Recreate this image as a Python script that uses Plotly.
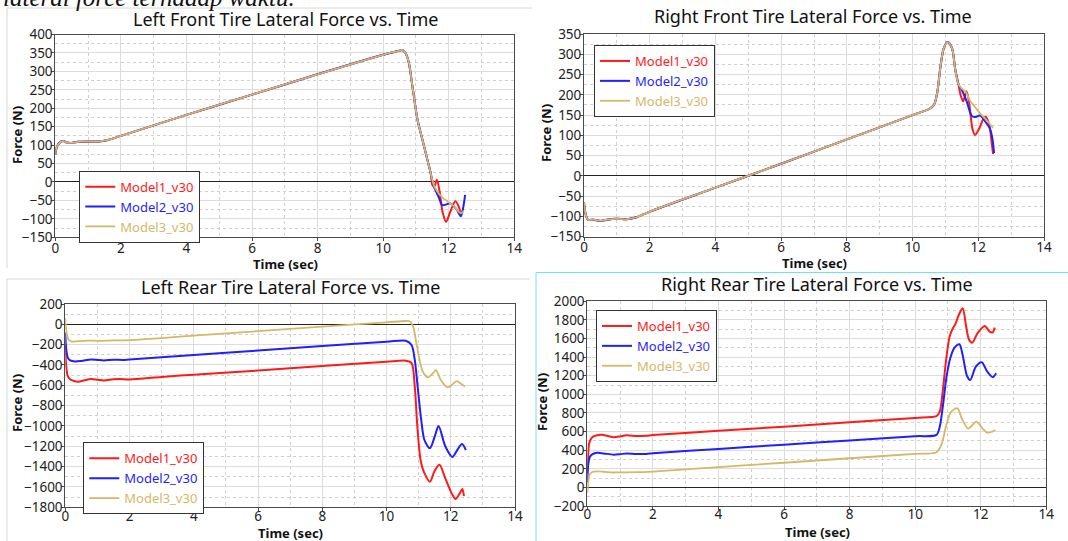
import plotly.graph_objects as go

# ---------------- data: lateral tire force (N) vs time (sec) ----------------
MODELS = ["Model1_v30", "Model2_v30", "Model3_v30"]
COLORS = ["#ff1a1a", "#1f1fff", "#d4b869"]

# Left front tire: the three models share the first part of the run
lf_time_common = [0, 0.05, 0.15, 0.25, 0.35, 0.5, 0.7, 1.0, 1.3, 1.6, 2.0, 4.0, 6.0,
                  8.0, 10.0, 10.45, 10.58, 10.68, 10.78, 10.9, 11.05, 11.2, 11.35, 11.45]
lf_force_common = [75, 96, 108, 111, 107, 106, 109, 110, 110, 114, 125, 182, 237,
                   292, 345, 355, 358, 350, 325, 255, 168, 114, 60, 24]
lf_time_m1 = [11.5, 11.56, 11.64, 11.72, 11.82, 11.92, 12.05, 12.2, 12.3, 12.38, 12.42]
lf_force_m1 = [-8, -12, 6, -25, -85, -108, -80, -52, -65, -86, -78]
lf_time_m2 = [11.55, 11.7, 11.8, 11.95, 12.05, 12.15, 12.25, 12.37, 12.44, 12.5]
lf_force_m2 = [-13, -42, -63, -60, -58, -65, -76, -93, -70, -35]
lf_time_m3 = [11.55, 11.7, 11.85, 12.0, 12.15, 12.3, 12.38, 12.45]
lf_force_m3 = [-10, -32, -45, -55, -65, -80, -85, -78]

# Right front tire
rf_time_common = [0, 0.05, 0.12, 0.3, 0.5, 0.7, 1.0, 1.3, 1.6, 2.0, 4.0, 6.0, 8.0,
                  10.0, 10.5, 10.65, 10.75, 10.85, 10.95, 11.07, 11.2, 11.3, 11.4]
rf_force_common = [-66, -95, -108, -108, -111, -108, -106, -107, -102, -88, -29, 30, 90,
                   150, 165, 175, 205, 270, 315, 330, 315, 262, 225]
rf_time_m1 = [11.46, 11.54, 11.64, 11.72, 11.82, 11.9, 12.03, 12.15, 12.22, 12.33, 12.41, 12.45]
rf_force_m1 = [200, 184, 209, 182, 117, 101, 117, 140, 146, 128, 80, 54]
rf_time_m2 = [11.5, 11.65, 11.8, 11.9, 12.05, 12.2, 12.35, 12.43, 12.48]
rf_force_m2 = [212, 183, 148, 145, 149, 136, 117, 92, 56]
rf_time_m3 = [11.5, 11.62, 11.75, 11.9, 12.05, 12.2, 12.35, 12.45]
rf_force_m3 = [215, 207, 185, 170, 155, 142, 128, 118]

# Left rear tire
lr_time_m1 = [0, 0.03, 0.08, 0.15, 0.25, 0.4, 0.6, 0.8, 1.0, 1.2, 1.5, 1.7, 2.0, 3.0,
              4.0, 6.0, 8.0, 10.0, 10.6, 10.78, 10.88, 10.96, 11.06, 11.16, 11.35,
              11.5, 11.65, 11.83, 12.03, 12.15, 12.28, 12.36, 12.41]
lr_force_m1 = [-200, -420, -510, -540, -555, -565, -550, -538, -545, -552, -540, -538,
               -542, -518, -495, -455, -410, -368, -358, -381, -613, -1007, -1335,
               -1450, -1548, -1440, -1381, -1515, -1663, -1719, -1663, -1620, -1690]
lr_time_m2 = [0, 0.03, 0.08, 0.15, 0.3, 0.5, 0.8, 1.0, 1.2, 1.5, 1.8, 2.0, 4.0, 6.0,
              8.0, 10.0, 10.6, 10.78, 10.88, 10.98, 11.08, 11.18, 11.35, 11.5, 11.62,
              11.83, 12.05, 12.2, 12.35, 12.47]
lr_force_m2 = [-80, -250, -330, -355, -365, -360, -345, -350, -355, -348, -350, -345,
               -302, -258, -213, -172, -161, -204, -351, -646, -941, -1138, -1220,
               -1105, -1000, -1200, -1305, -1237, -1178, -1237]
lr_time_m3 = [0, 0.04, 0.1, 0.2, 0.4, 0.7, 1.0, 1.5, 2.0, 4.0, 6.0, 8.0, 10.0, 10.6,
              10.72, 10.83, 10.93, 11.03, 11.13, 11.29, 11.44, 11.54, 11.69, 11.9,
              12.03, 12.18, 12.33, 12.44]
lr_force_m3 = [60, -80, -150, -170, -165, -160, -162, -158, -155, -111, -67, -23, 20, 33,
               30, -23, -187, -351, -466, -522, -483, -450, -548, -620, -597, -558,
               -587, -613]

# Right rear tire
rr_time_m1 = [0, 0.02, 0.06, 0.15, 0.3, 0.45, 0.6, 0.8, 1.0, 1.2, 1.5, 1.8, 2.0, 4.0,
              6.0, 8.0, 10.0, 10.65, 10.75, 10.85, 10.95, 11.05, 11.15, 11.22, 11.33,
              11.45, 11.55, 11.64, 11.74, 11.9, 12.12, 12.27, 12.36, 12.43]
rr_force_m1 = [150, 300, 480, 540, 560, 565, 555, 540, 548, 560, 552, 555, 562, 608,
               653, 700, 747, 765, 814, 1065, 1387, 1620, 1710, 1750, 1853, 1925, 1740,
               1590, 1555, 1656, 1735, 1674, 1665, 1717]
rr_time_m2 = [0, 0.03, 0.08, 0.15, 0.3, 0.5, 0.8, 1.0, 1.2, 1.5, 1.8, 2.0, 4.0, 6.0,
              8.0, 10.0, 10.65, 10.75, 10.85, 10.95, 11.07, 11.2, 11.35, 11.45, 11.58,
              11.68, 11.85, 12.03, 12.2, 12.37, 12.47]
rr_force_m2 = [50, 250, 330, 355, 372, 365, 352, 357, 365, 358, 360, 367, 413, 459, 505,
               550, 565, 652, 886, 1172, 1387, 1501, 1538, 1420, 1200, 1154, 1297, 1344,
               1244, 1185, 1226]
rr_time_m3 = [0, 0.03, 0.08, 0.15, 0.3, 0.5, 0.8, 1.0, 1.5, 2.0, 4.0, 6.0, 8.0, 10.0,
              10.65, 10.8, 10.95, 11.1, 11.29, 11.42, 11.61, 11.72, 11.87, 12.05, 12.2,
              12.35, 12.45]
rr_force_m3 = [-60, 60, 140, 165, 172, 168, 160, 162, 163, 170, 218, 265, 313, 360, 377,
               456, 671, 814, 850, 743, 632, 660, 706, 635, 588, 600, 617]

PANEL_TITLES = ["Left Front Tire Lateral Force vs. Time",
                "Right Front Tire Lateral Force vs. Time",
                "Left Rear Tire Lateral Force vs. Time",
                "Right Rear Tire Lateral Force vs. Time"]
X_TITLE = "Time (sec)"
Y_TITLE = "Force (N)"

panels = [
    [(lf_time_common + lf_time_m1, lf_force_common + lf_force_m1),
     (lf_time_common + lf_time_m2, lf_force_common + lf_force_m2),
     (lf_time_common + lf_time_m3, lf_force_common + lf_force_m3)],
    [(rf_time_common + rf_time_m1, rf_force_common + rf_force_m1),
     (rf_time_common + rf_time_m2, rf_force_common + rf_force_m2),
     (rf_time_common + rf_time_m3, rf_force_common + rf_force_m3)],
    [(lr_time_m1, lr_force_m1), (lr_time_m2, lr_force_m2), (lr_time_m3, lr_force_m3)],
    [(rr_time_m1, rr_force_m1), (rr_time_m2, rr_force_m2), (rr_time_m3, rr_force_m3)],
]

# ---------------- layout geometry (pixels in a 1068 x 541 page) ----------------
W, H = 1068, 541
# plot boxes: left, right, top, bottom
boxes = [(55.3, 514.3, 34.5, 237.3),
         (584.0, 1044.0, 34.0, 236.7),
         (65.3, 515.0, 304.0, 507.3),
         (587.3, 1046.3, 301.3, 506.0)]
y_ranges = [(-150, 400), (-150, 350), (-1800, 200), (-200, 2000)]
y_major = [50, 50, 200, 200]
x_label_shift = [-5, -5, -7, -7]
title_pos = [(285, 19), (813, 16), (290, 287), (817, 284)]
xtitle_pos = [(285, 263.5), (814, 262.5), (290, 532.5), (817, 532.0)]
ytitle_pos = [(17, 135), (546, 133), (17, 403), (542, 402)]
legend_pos = [(79.3, 170.7), (594.0, 45.0), (83.3, 442.3), (596.0, 310.0)]

FONT = "Noto Sans"
AXIS_COLOR = "#4a4a4a"
GRID_MAJOR = "#dcdcdc"
GRID_MINOR = "#cfcfcf"


def px_x(x):
    return x / W


def px_y(y):
    return 1 - y / H


def paper_text(text, x, y, size, angle=0, weight="normal", color="#111"):
    fig.add_annotation(text=text, x=px_x(x), y=px_y(y), xref="paper", yref="paper",
                       showarrow=False, xanchor="center", yanchor="middle",
                       textangle=angle,
                       font=dict(family=FONT, size=size, color=color, weight=weight))


fig = go.Figure()

for p, series in enumerate(panels):
    suffix = "" if p == 0 else str(p + 1)
    legend_id = "legend" + suffix
    for (t, f), name, color in zip(series, MODELS, COLORS):
        fig.add_trace(go.Scatter(
            x=t, y=f, mode="lines",
            line=dict(color=color, width=2 if color != COLORS[2] else 1.8,
                      shape="spline", smoothing=0.8),
            name=f'<span style="color:{color}">{name}</span>',
            legend=legend_id,
            xaxis="x" + suffix, yaxis="y" + suffix,
            hoverinfo="x+y",
        ))

    l, r, t_, b = boxes[p]
    common_axis = dict(
        showline=True, linecolor=AXIS_COLOR, linewidth=1, mirror=True,
        ticks="outside", ticklen=3, tickcolor=AXIS_COLOR,
        showgrid=True, gridcolor=GRID_MAJOR, gridwidth=1,
        tickfont=dict(family=FONT, size=13.5, color="#222"),
        automargin=False,
    )
    xa = dict(common_axis,
              domain=[px_x(l), px_x(r)], range=[0, 14], dtick=2, tick0=0,
              anchor="y" + suffix, zeroline=False, ticklabelstandoff=x_label_shift[p],
              minor=dict(dtick=1, showgrid=True, gridcolor=GRID_MINOR, griddash="dot",
                         ticks=""))
    ya = dict(common_axis,
              domain=[px_y(b), px_y(t_)], range=list(y_ranges[p]), dtick=y_major[p],
              tick0=0, anchor="x" + suffix, ticklabelstandoff=-4,
              zeroline=True, zerolinecolor="#222", zerolinewidth=1,
              minor=dict(dtick=y_major[p] / 2, showgrid=True, gridcolor=GRID_MINOR,
                         griddash="dot", ticks=""))
    fig.layout["xaxis" + suffix] = xa
    fig.layout["yaxis" + suffix] = ya

    lx, ly = legend_pos[p]
    fig.layout[legend_id] = dict(
        x=px_x(lx), y=px_y(ly), xanchor="left", yanchor="top",
        xref="paper", yref="paper",
        bgcolor="white", bordercolor="#333", borderwidth=1,
        font=dict(family=FONT, size=13),
        itemwidth=30, tracegroupgap=0,
    )

    paper_text(PANEL_TITLES[p], *title_pos[p], size=18)
    paper_text(X_TITLE, *xtitle_pos[p], size=13, weight="bold")
    paper_text(Y_TITLE, *ytitle_pos[p], size=13, angle=-90, weight="bold")

# caption line from the surrounding page, cut off at the top edge
fig.add_annotation(text="lateral force terhadap waktu.", x=px_x(1), y=px_y(-2),
                   xref="paper", yref="paper", showarrow=False,
                   xanchor="left", yanchor="middle",
                   font=dict(family="Liberation Serif", size=25, color="#111",
                             style="italic"))

# frames around the individual chart images
frame_shapes = [
    dict(x0=7, x1=532, y0=8, y1=8, color="#d8d8d8"),
    dict(x0=7, x1=7, y0=8, y1=268, color="#d8d8d8"),
    dict(x0=7, x1=530, y0=279, y1=279, color="#d8d8d8"),
    dict(x0=7, x1=7, y0=279, y1=541, color="#d8d8d8"),
    dict(x0=536, x1=1068, y0=272.5, y1=272.5, color="#6fe3f3"),
    dict(x0=536, x1=536, y0=272.5, y1=541, color="#6fe3f3"),
]
for s in frame_shapes:
    fig.add_shape(type="line", xref="paper", yref="paper",
                  x0=px_x(s["x0"]), x1=px_x(s["x1"]),
                  y0=px_y(s["y0"]), y1=px_y(s["y1"]),
                  line=dict(color=s["color"], width=1), layer="below")

fig.update_layout(
    width=W, height=H,
    margin=dict(l=0, r=0, t=0, b=0),
    paper_bgcolor="white", plot_bgcolor="white",
    showlegend=True,
    font=dict(family=FONT),
)

fig.write_html("out.html")
